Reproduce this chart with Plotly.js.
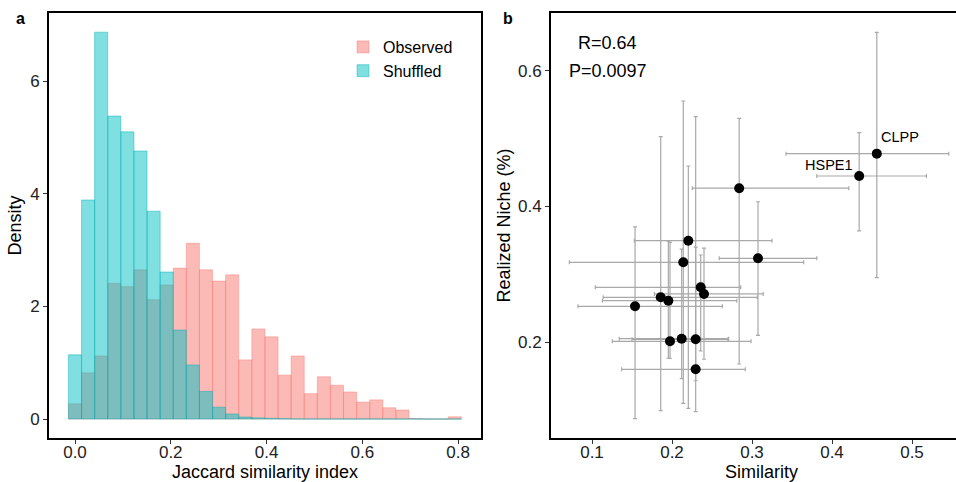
<!DOCTYPE html>
<html>
<head>
<meta charset="utf-8">
<script src="https://cdn.plot.ly/plotly-3.0.1.min.js"></script>
<style>
html, body { margin: 0; padding: 0; overflow: hidden; background: #fff; }
#chart { width: 980px; height: 482px; }
</style>
</head>
<body>
<div id="chart"></div>
<script>
// ---------- Panel a: histogram data (density per bin) ----------
const binCenters = [0, 0.0274, 0.0547, 0.0821, 0.1094, 0.1368, 0.1642, 0.1915, 0.2189, 0.2462,
  0.2736, 0.3010, 0.3283, 0.3557, 0.3830, 0.4104, 0.4378, 0.4651, 0.4925, 0.5198,
  0.5472, 0.5746, 0.6019, 0.6293, 0.6566, 0.6840, 0.7114, 0.7387, 0.7661, 0.7934];
const observedDensity = [0.27, 0.82, 1.12, 2.41, 2.35, 2.65, 2.12, 2.38, 2.68, 3.12,
  2.65, 2.45, 2.56, 1.05, 1.60, 1.46, 0.78, 1.12, 0.45, 0.75,
  0.60, 0.48, 0.30, 0.34, 0.20, 0.16, 0.01, 0, 0, 0.04];
const shuffledDensity = [1.14, 3.89, 6.87, 5.38, 5.10, 4.76, 3.69, 2.61, 1.58, 0.96,
  0.49, 0.21, 0.09, 0.035, 0.02, 0.012, 0.005, 0, 0, 0,
  0, 0, 0, 0, 0, 0, 0, 0, 0, 0];
const histNames = ['Observed', 'Shuffled'];
const histTicks = [0, 0.2, 0.4, 0.6, 0.8];
const densityTicks = [0, 2, 4, 6];

// ---------- Panel b: scatter with error bars ----------
const similarity = [0.1538, 0.1859, 0.1954, 0.1975, 0.2121, 0.2141, 0.2204, 0.2296, 0.2296, 0.2359, 0.2400, 0.2840, 0.3075, 0.4340, 0.4560];
const similarityLow = [0.0825, 0.1140, 0.1130, 0.1254, 0.1340, 0.0717, 0.1529, 0.1500, 0.1370, 0.1041, 0.1780, 0.2254, 0.2590, 0.3810, 0.3425];
const similarityHigh = [0.2630, 0.3067, 0.2810, 0.2988, 0.2708, 0.3646, 0.3250, 0.2700, 0.2916, 0.2859, 0.3140, 0.4210, 0.3810, 0.5180, 0.5460];
const niche = [0.2527, 0.2660, 0.2610, 0.2010, 0.2049, 0.3176, 0.3495, 0.2040, 0.1597, 0.2807, 0.2709, 0.4270, 0.3235, 0.4450, 0.4780];
const nicheLow = [0.0868, 0.0986, 0.1760, 0.1760, 0.1460, 0.1095, 0.1020, 0.0971, 0.1428, 0.1867, 0.1745, 0.1675, 0.2099, 0.3640, 0.2950];
const nicheHigh = [0.3700, 0.5030, 0.3490, 0.3470, 0.3370, 0.5557, 0.4598, 0.5326, 0.3400, 0.3284, 0.3387, 0.5300, 0.4070, 0.5090, 0.6570];
const geneLabels = ['', '', '', '', '', '', '', '', '', '', '', '', '', 'HSPE1', 'CLPP'];
const statsText = ['R=0.64', 'P=0.0097'];
const simTicks = [0.1, 0.2, 0.3, 0.4, 0.5];
const nicheTicks = [0.2, 0.4, 0.6];

const FONT = '"Liberation Sans", Arial, Helvetica, sans-serif';
const W = 980, H = 482;

const traces = [
  {
    type: 'bar', name: histNames[0], x: binCenters, y: observedDensity,
    width: 0.02736, xaxis: 'x', yaxis: 'y',
    marker: { color: 'rgba(248,118,109,0.5)', line: { color: 'rgba(248,118,109,0.5)', width: 0.8 } }
  },
  {
    type: 'bar', name: histNames[1], x: binCenters, y: shuffledDensity,
    width: 0.02736, xaxis: 'x', yaxis: 'y',
    marker: { color: 'rgba(0,191,196,0.5)', line: { color: 'rgba(0,175,180,0.55)', width: 0.8 } }
  },
  {
    type: 'scatter', mode: 'markers', x: similarity, y: niche, xaxis: 'x2', yaxis: 'y2',
    showlegend: false,
    marker: { color: '#000', size: 10 },
    error_x: {
      type: 'data', symmetric: false,
      array: similarityHigh.map((v, i) => v - similarity[i]),
      arrayminus: similarityLow.map((v, i) => similarity[i] - v),
      color: '#a9a9a9', thickness: 1.2, width: 2
    },
    error_y: {
      type: 'data', symmetric: false,
      array: nicheHigh.map((v, i) => v - niche[i]),
      arrayminus: nicheLow.map((v, i) => niche[i] - v),
      color: '#a9a9a9', thickness: 1.2, width: 2
    }
  }
];

const annotations = [];
geneLabels.forEach((lab, i) => {
  if (!lab) return;
  const right = lab === 'HSPE1';
  annotations.push({
    xref: 'x2', yref: 'y2', x: similarity[i], y: niche[i], text: lab, showarrow: false,
    xanchor: right ? 'right' : 'left', yanchor: 'middle',
    xshift: right ? -4 : 2, yshift: right ? 11 : 17,
    font: { family: FONT, size: 14.5, color: '#000' }
  });
});
annotations.push({ xref: 'x2 domain', yref: 'y2 domain', x: 0.135, y: 0.929, text: statsText[0], showarrow: false,
  xanchor: 'center', yanchor: 'middle', font: { family: FONT, size: 18, color: '#000' } });
annotations.push({ xref: 'x2 domain', yref: 'y2 domain', x: 0.135, y: 0.864, text: statsText[1], showarrow: false,
  xanchor: 'center', yanchor: 'middle', font: { family: FONT, size: 18, color: '#000' } });
annotations.push({ xref: 'paper', yref: 'paper', x: 20 / W, y: 1 - 19 / H, text: '<b>a</b>', showarrow: false,
  xanchor: 'center', yanchor: 'middle', font: { family: FONT, size: 16, color: '#000' } });
annotations.push({ xref: 'paper', yref: 'paper', x: 508 / W, y: 1 - 19 / H, text: '<b>b</b>', showarrow: false,
  xanchor: 'center', yanchor: 'middle', font: { family: FONT, size: 16, color: '#000' } });

const axisBase = {
  showline: true, mirror: true, linecolor: '#000', linewidth: 2,
  showgrid: false, zeroline: false, ticks: 'outside', ticklen: 4, tickwidth: 1, tickcolor: '#333',
  tickfont: { family: FONT, size: 17, color: '#222' }, automargin: false
};

const yDom = [(H - 438) / H, (H - 13) / H];

const layout = {
  width: W, height: H,
  margin: { l: 0, r: 0, t: 0, b: 0 },
  paper_bgcolor: '#fff', plot_bgcolor: '#fff',
  barmode: 'overlay', bargap: 0,
  font: { family: FONT, color: '#000' },
  xaxis: Object.assign({}, axisBase, {
    domain: [49 / W, 481 / W], range: [-0.0543, 0.848],
    tickvals: histTicks, tickformat: '.1f', ticklabelstandoff: -6,
    title: { text: 'Jaccard similarity index', font: { family: FONT, size: 18, color: '#000' }, standoff: 12 }
  }),
  yaxis: Object.assign({}, axisBase, {
    domain: yDom, range: [-0.337, 7.21], tickvals: densityTicks,
    title: { text: 'Density', font: { family: FONT, size: 18, color: '#000' }, standoff: 4 }
  }),
  xaxis2: Object.assign({}, axisBase, {
    anchor: 'y2', domain: [551 / W, 972 / W], range: [0.04875, 0.575],
    tickvals: simTicks, tickformat: '.1f', ticklabelstandoff: -6,
    title: { text: 'Similarity', font: { family: FONT, size: 18, color: '#000' }, standoff: 12 }
  }),
  yaxis2: Object.assign({}, axisBase, {
    anchor: 'x2', domain: yDom, range: [0.0583, 0.6856],
    tickvals: nicheTicks, tickformat: '.1f',
    title: { text: 'Realized Niche (%)', font: { family: FONT, size: 18, color: '#000' }, standoff: 3 }
  }),
  legend: {
    x: 343 / W, y: 1 - 30 / H, xanchor: 'left', yanchor: 'top',
    bgcolor: 'rgba(0,0,0,0)', font: { family: FONT, size: 16, color: '#000' },
    tracegroupgap: 0
  },
  showlegend: true,
  annotations: annotations
};

Plotly.newPlot('chart', traces, layout, { displayModeBar: false, staticPlot: true });
</script>
</body>
</html>
